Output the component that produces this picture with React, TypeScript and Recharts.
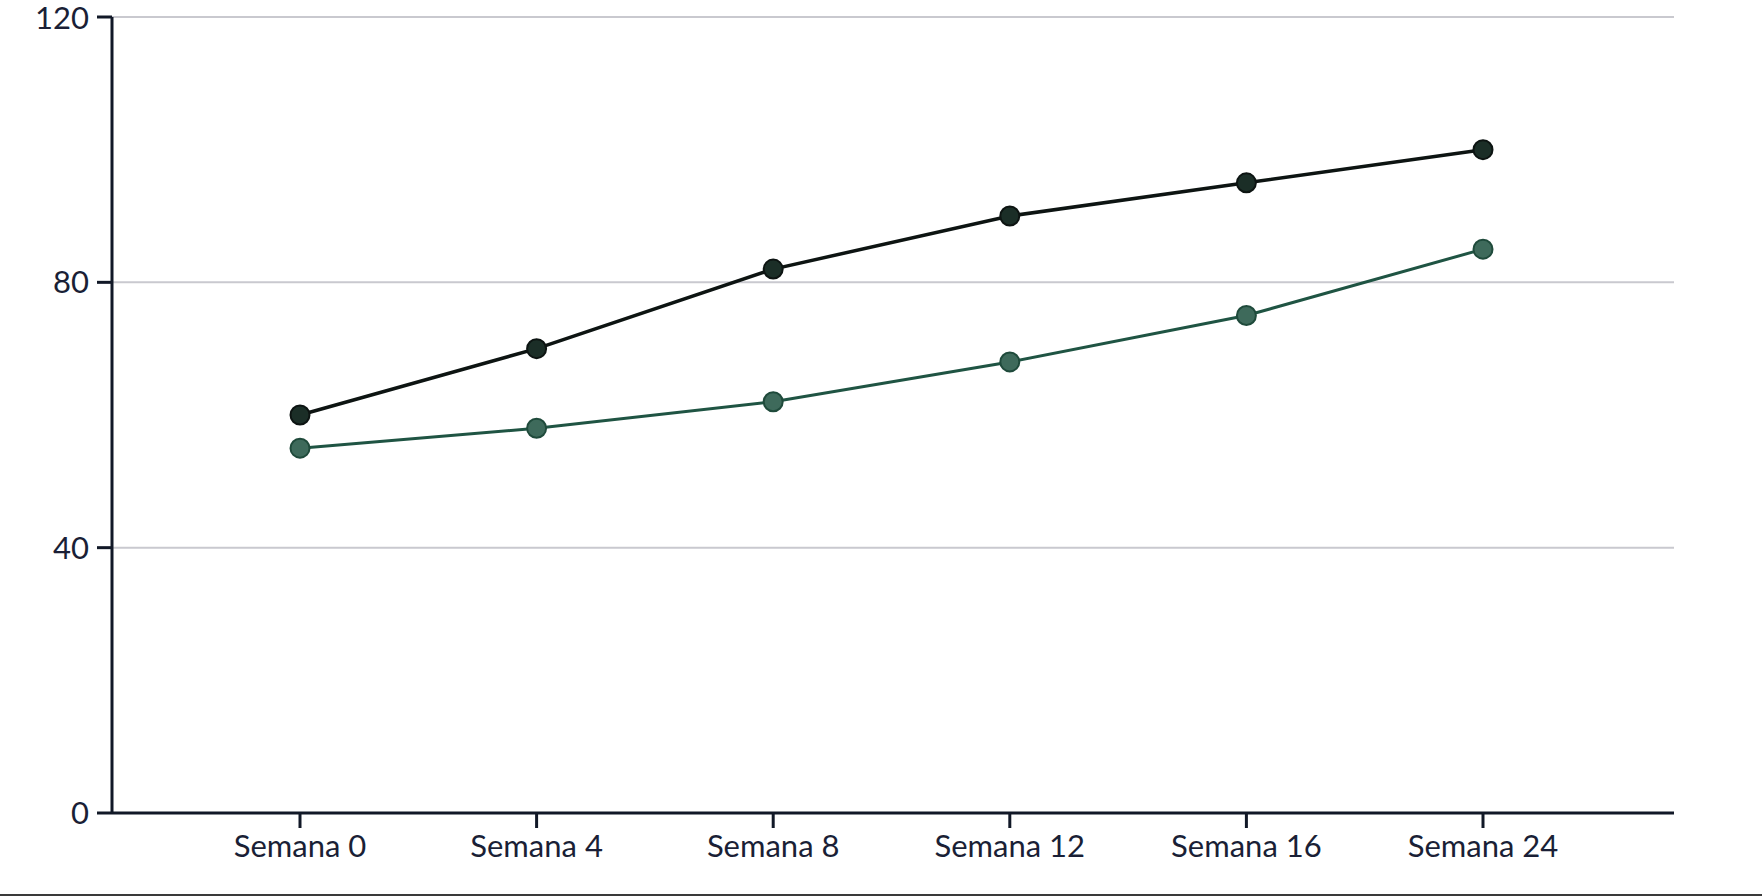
import React from 'react';
import { LineChart, Line, XAxis, YAxis, CartesianGrid } from 'recharts';

const weeks = ['Semana 0', 'Semana 4', 'Semana 8', 'Semana 12', 'Semana 16', 'Semana 24'];
const seriesA = [60, 70, 82, 90, 95, 100];
const seriesB = [55, 58, 62, 68, 75, 85];
const yTicks = [0, 40, 80, 120];

const data = weeks.map((week, i) => ({ week, a: seriesA[i], b: seriesB[i] }));

const axisColor = '#111827';
const textColor = '#1a1f36';
const fontFamily = 'Lato, "Noto Sans", sans-serif';

const App: React.FC = () => {
    return (
        <div style={{ width: 1762, background: '#ffffff' }}>
            <style>{'body { margin: 0; }'}</style>
            <LineChart width={1762} height={894} data={data} margin={{ top: 17, right: 88, left: 0, bottom: 21 }}>
                <CartesianGrid vertical={false} stroke="#c9c9cf" strokeWidth={2} />
                <XAxis
                    dataKey="week"
                    padding={{ left: 188, right: 191 }}
                    height={60}
                    tickSize={15}
                    tickMargin={7}
                    stroke={axisColor}
                    strokeWidth={3}
                    tick={{ fill: textColor, fontSize: 31, fontFamily }}
                />
                <YAxis
                    domain={[0, 120]}
                    ticks={yTicks}
                    width={112}
                    tickSize={15}
                    tickMargin={8}
                    stroke={axisColor}
                    strokeWidth={3}
                    tick={{ fill: textColor, fontSize: 31, fontFamily }}
                />
                <Line
                    type="linear"
                    dataKey="a"
                    stroke="#0d1412"
                    strokeWidth={3.5}
                    dot={{ r: 9.5, fill: '#1b2e27', stroke: '#0d1412', strokeWidth: 2 }}
                    isAnimationActive={false}
                />
                <Line
                    type="linear"
                    dataKey="b"
                    stroke="#1f5443"
                    strokeWidth={3}
                    dot={{ r: 9.5, fill: '#3e6a5b', stroke: '#1f4a3b', strokeWidth: 2 }}
                    isAnimationActive={false}
                />
            </LineChart>
            <div style={{ height: 2, background: '#3a3a3a' }} />
        </div>
    );
};

export default App;
